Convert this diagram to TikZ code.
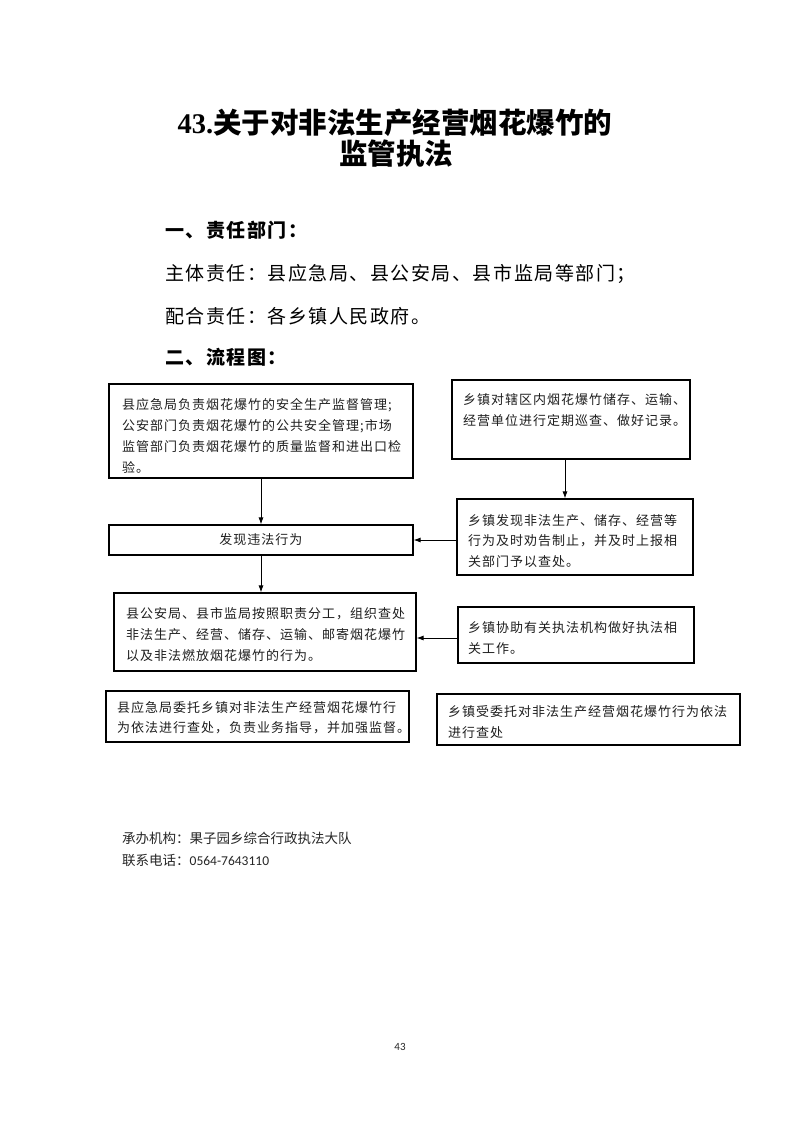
\documentclass[tikz,border=0pt]{standalone}
\usepackage{fontspec}
\setmainfont{Noto Sans CJK SC}
\newfontfamily\cjk{Noto Sans CJK SC}
\newfontfamily\cjkbox[LetterSpace=7.7]{Noto Sans CJK SC}
\newfontfamily\cjkbody[LetterSpace=8]{Noto Sans CJK SC}
\newfontfamily\serifnum{Liberation Serif}
\newfontfamily\calib{Carlito}
\usetikzlibrary{arrows.meta}
\begin{document}
\begin{tikzpicture}[x=1pt,y=-1pt,
  frame/.style={draw=black, line width=1.1pt, inner sep=0pt},
  boxtext/.style={anchor=base west, align=left, inner sep=0pt, text=black!88, font=\cjkbox\fontsize{13}{21}\selectfont},
  bodytext/.style={anchor=base west, inner sep=0pt, text=black, font=\cjkbody\fontsize{19}{19}\selectfont},
  headtext/.style={anchor=base west, inner sep=0pt, text=black, font=\cjkbody\bfseries\fontsize{19}{19}\selectfont},
  titletext/.style={anchor=base, inner sep=0pt, text=black, font=\cjk\bfseries\fontsize{28.5}{34}\selectfont},
  foottext/.style={anchor=base west, inner sep=0pt, text=black!85, font=\cjk\fontsize{13.5}{22}\selectfont},
  conn/.style={line width=0.9pt, -{Latex[length=7pt,width=5pt]}},
]
\useasboundingbox[fill=white] (0,0) rectangle (793,1122);

% title
\node[titletext] (title1) at (395,133) {{\serifnum\bfseries 43.}关于对非法生产经营烟花爆竹的};
\node[titletext] (title2) at (396,164) {监管执法};

% section text
\node[headtext] (h1) at (165,237) {一、责任部门：};
\node[bodytext] (l1) at (165,280) {主体责任：县应急局、县公安局、县市监局等部门；};
\node[bodytext] (l2) at (165,323) {配合责任：各乡镇人民政府。};
\node[headtext] (h2) at (165,364) {二、流程图：};

% frames
\node[frame, minimum width=304pt, minimum height=94pt] (b1) at (261,431) {};
\node[frame, minimum width=238pt, minimum height=79pt] (b2) at (571,419.5) {};
\node[frame, minimum width=236pt, minimum height=76pt] (b3) at (575,537) {};
\node[frame, minimum width=304pt, minimum height=30pt, text=black!88, font=\cjkbox\fontsize{13}{21}\selectfont] (find) at (261,540) {发现违法行为};
\node[frame, minimum width=302pt, minimum height=78pt] (b4) at (265,632) {};
\node[frame, minimum width=236pt, minimum height=56pt] (b5) at (576,635) {};
\node[frame, minimum width=303pt, minimum height=51pt] (b6) at (257.5,716.5) {};
\node[frame, minimum width=303pt, minimum height=51pt] (b7) at (588.5,719.5) {};

% box texts (anchor = baseline of the last line)
\node[boxtext] (t1) at (122,472) {县应急局负责烟花爆竹的安全生产监督管理;\\公安部门负责烟花爆竹的公共安全管理;市场\\监管部门负责烟花爆竹的质量监督和进出口检\\验。};
\node[boxtext, font=\cjkbox\fontsize{13}{20.5}\selectfont] (t2) at (463,425) {乡镇对辖区内烟花爆竹储存、运输、\\经营单位进行定期巡查、做好记录。};
\node[boxtext, font=\cjkbox\fontsize{13}{20.5}\selectfont] (t3) at (468,566) {乡镇发现非法生产、储存、经营等\\行为及时劝告制止，并及时上报相\\关部门予以查处。};
\node[boxtext] (t4) at (126,660) {县公安局、县市监局按照职责分工，组织查处\\非法生产、经营、储存、运输、邮寄烟花爆竹\\以及非法燃放烟花爆竹的行为。};
\node[boxtext] (t5) at (468,653) {乡镇协助有关执法机构做好执法相\\关工作。};
\node[boxtext, font=\cjkbox\fontsize{13}{19.5}\selectfont] (t6) at (117,732) {县应急局委托乡镇对非法生产经营烟花爆竹行\\为依法进行查处，负责业务指导，并加强监督。};
\node[boxtext] (t7) at (448,737) {乡镇受委托对非法生产经营烟花爆竹行为依法\\进行查处};

% connectors
\draw[conn] (b1) -- (find);
\draw[conn] (find.south) -- (find.south |- b4.north);
\draw[conn] ([xshift=-6pt]b2.south) -- ([xshift=-6pt]b2.south |- b3.north);
\draw[conn] (b3.west |- find.east) -- (find.east);
\draw[conn] ([yshift=-3pt]b5.west) -- ([yshift=-3pt]b5.west -| b4.east);

% footer
\node[foottext] (f1) at (122,843) {承办机构：果子园乡综合行政执法大队};
\node[foottext] (f2) at (122,865) {联系电话：{\calib 0564-7643110}};
\node[anchor=base, inner sep=0pt, text=black!85, font=\calib\fontsize{11}{11}\selectfont] (pg) at (400,1050) {43};
\end{tikzpicture}
\end{document}
